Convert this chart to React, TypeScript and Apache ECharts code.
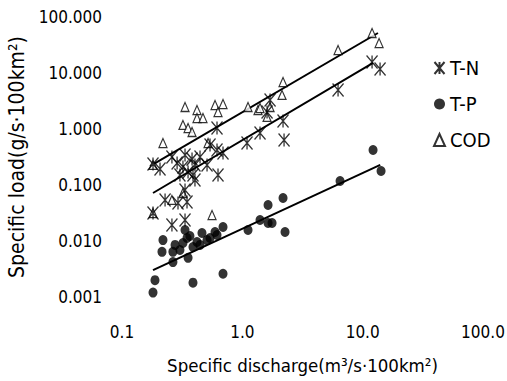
import React, { useEffect, useRef } from "react";
import * as echarts from "echarts";

const xTicks = [0.1, 1, 10, 100];
const yTicks = [0.001, 0.01, 0.1, 1, 10, 100];

const seriesNames = ["T-N", "T-P", "COD"];

const tnPoints: [number, number][] = [
  [0.181, 0.237], [0.207, 0.193], [0.26, 0.316], [0.287, 0.247], [0.334, 0.343],
  [0.321, 0.21], [0.354, 0.171], [0.389, 0.151], [0.404, 0.123], [0.445, 0.316],
  [0.509, 0.228], [0.539, 0.518], [0.616, 0.422], [0.691, 0.373], [0.628, 0.151],
  [1.094, 0.562], [0.334, 0.0814], [0.228, 0.054], [0.292, 0.0477], [0.347, 0.0497],
  [0.181, 0.0316], [0.26, 0.0193], [0.334, 0.0237], [0.616, 1.04], [1.403, 0.849],
  [2.179, 1.39], [2.222, 0.637], [1.7, 3.3], [1.605, 2.01], [6.245, 4.97],
  [11.97, 15.7], [13.95, 11.8], [0.404, 0.228], [0.303, 0.151], [0.382, 0.29],
];

const tpPoints: [number, number][] = [
  [0.219, 0.0104], [0.215, 0.0064], [0.276, 0.0085], [0.265, 0.0064], [0.303, 0.0069],
  [0.321, 0.0092], [0.334, 0.0157], [0.347, 0.0113], [0.354, 0.005], [0.389, 0.0078],
  [0.42, 0.0096], [0.462, 0.0139], [0.509, 0.0104], [0.593, 0.0145], [0.691, 0.0178],
  [0.616, 0.0128], [1.115, 0.0157], [1.403, 0.0237], [1.636, 0.021], [0.265, 0.0042],
  [0.188, 0.002], [0.181, 0.0012], [0.389, 0.0018], [0.691, 0.0026], [1.636, 0.044],
  [2.179, 0.0586], [1.766, 0.021], [2.264, 0.0145], [6.489, 0.118], [12.2, 0.422],
  [14.22, 0.178], [0.367, 0.0123], [0.445, 0.0085], [0.539, 0.0113],
];

const codPoints: [number, number][] = [
  [0.334, 2.47], [0.42, 2.18], [0.42, 1.57], [0.471, 1.57], [0.593, 2.68],
  [0.691, 2.79], [0.628, 2.01], [1.115, 2.47], [0.321, 1.18], [0.354, 1.04],
  [0.382, 0.884], [0.219, 0.562], [0.519, 0.562], [1.35, 2.18], [11.97, 51.8],
  [13.69, 34.3], [6.245, 25.7], [2.179, 6.9], [2.138, 4.05], [1.7, 2.47],
  [1.403, 2.37], [1.605, 1.64], [0.26, 0.054], [0.56, 0.0291], [0.181, 0.228],
  [0.321, 0.072], [0.181, 0.0316],
];

const codFit: [number, number][] = [[0.171, 0.218], [13.4, 51.8]];
const tnFit: [number, number][] = [[0.181, 0.072], [12.2, 15.1]];
const tpFit: [number, number][] = [[0.181, 0.00303], [14.0, 0.228]];

const FONT = "'Liberation Sans Narrow', 'DejaVu Sans Condensed', 'Liberation Sans', sans-serif";
const STAR = "path://M0,0 L10,12 M10,0 L0,12 M5,0 L5,12";

export default function App() {
  const ref = useRef<HTMLDivElement>(null);
  useEffect(() => {
    if (!ref.current) return;
    const chart = echarts.init(ref.current, null, { renderer: "svg" });
    const fitLine = (data: [number, number][]) => ({
      type: "line",
      data,
      symbol: "none",
      silent: true,
      lineStyle: { color: "#000", width: 2 },
      z: 1,
    });
    chart.setOption({
      animation: false,
      backgroundColor: "#fff",
      textStyle: { fontFamily: FONT, color: "#000" },
      grid: {
        left: 122,
        top: 17,
        width: 361,
        height: 280,
        containLabel: false,
        outerBoundsMode: "none",
      },
      legend: {
        data: seriesNames,
        orient: "vertical",
        left: 428,
        top: 53,
        itemWidth: 11,
        itemHeight: 12,
        itemGap: 16,
        textStyle: { fontFamily: FONT, fontSize: 20, color: "#000" },
      },
      xAxis: {
        type: "log",
        logBase: 10,
        min: xTicks[0],
        max: xTicks[xTicks.length - 1],
        axisLine: { show: false },
        axisTick: { show: false },
        splitLine: { show: false },
        axisLabel: {
          fontSize: 17,
          color: "#000",
          margin: 26,
          fontFamily: FONT,
          formatter: (v: number) => v.toFixed(1),
        },
        name: "Specific discharge(m³/s·100km²)",
        nameLocation: "middle",
        nameGap: 59,
        nameTextStyle: { fontSize: 18.5, color: "#000", fontFamily: FONT },
      },
      yAxis: {
        type: "log",
        logBase: 10,
        min: yTicks[0],
        max: yTicks[yTicks.length - 1],
        axisLine: { show: false },
        axisTick: { show: false },
        splitLine: { show: false },
        axisLabel: {
          fontSize: 17,
          color: "#000",
          margin: 20,
          fontFamily: FONT,
          formatter: (v: number) => v.toFixed(3),
        },
        name: "Specific load(g/s·100km²)",
        nameLocation: "middle",
        nameGap: 88,
        nameTextStyle: { fontSize: 21, color: "#000", fontFamily: FONT },
      },
      series: [
        fitLine(codFit),
        fitLine(tnFit),
        fitLine(tpFit),
        {
          name: "T-N",
          type: "scatter",
          data: tnPoints,
          symbol: STAR,
          symbolSize: [11, 13],
          itemStyle: { color: "#000", borderColor: "#000", borderWidth: 1.4 },
          z: 3,
        },
        {
          name: "T-P",
          type: "scatter",
          data: tpPoints,
          symbol: "circle",
          symbolSize: [9, 10],
          itemStyle: { color: "#000" },
          z: 3,
        },
        {
          name: "COD",
          type: "scatter",
          data: codPoints,
          symbol: "triangle",
          symbolSize: [8, 9],
          itemStyle: { color: "#fff", borderColor: "#000", borderWidth: 1.2 },
          z: 2,
        },
      ],
    });
    return () => chart.dispose();
  }, []);
  return (
    <div
      ref={ref}
      style={{ position: "fixed", left: 0, top: 0, width: 507, height: 381 }}
    />
  );
}
